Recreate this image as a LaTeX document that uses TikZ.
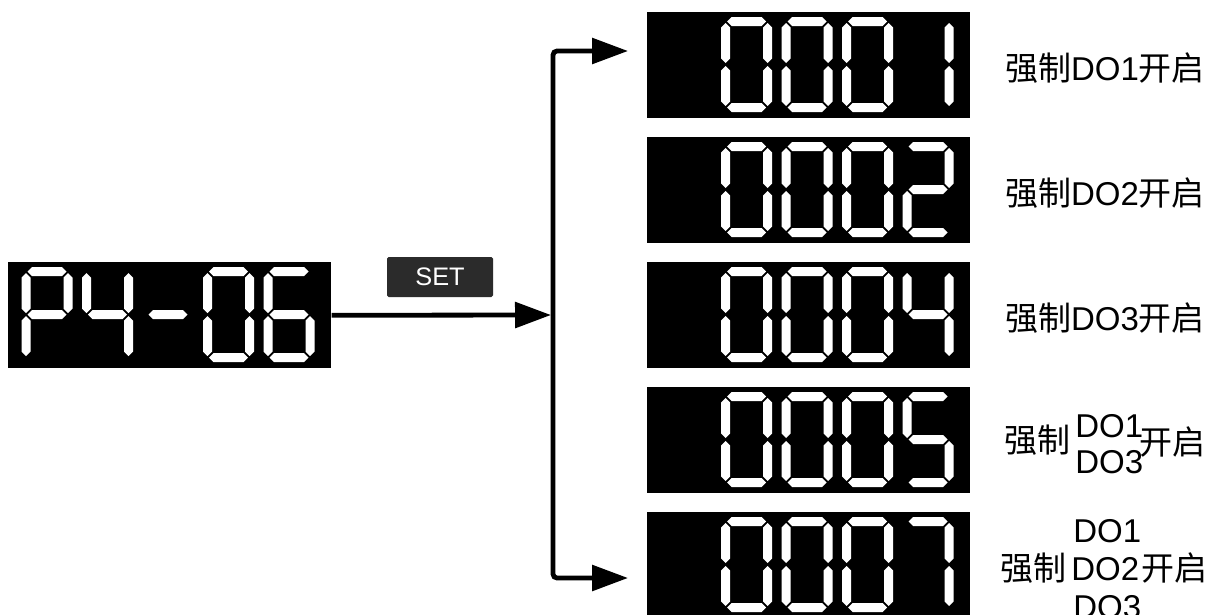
\documentclass[tikz,border=0pt]{standalone}
\usepackage{fontspec}
\setmainfont{Liberation Sans}
\newfontfamily\cjk{Noto Sans CJK SC}
\usetikzlibrary{arrows.meta}
\definecolor{setgray}{HTML}{2B2B2B}
% seven-segment pieces (units: px of the reference)
\newcommand\hsg[3]{\fill[segcol] (#1,#3) -- ({#1+4.5},{#3-4.5}) -- ({#2-4.5},{#3-4.5}) -- (#2,#3) -- ({#2-4.5},{#3+4.5}) -- ({#1+4.5},{#3+4.5}) -- cycle;}
\newcommand\vsg[3]{\fill[segcol] (#1,#2) -- ({#1+4.5},{#2+4.5}) -- ({#1+4.5},{#3-4.5}) -- (#1,#3) -- ({#1-4.5},{#3-4.5}) -- ({#1-4.5},{#2+4.5}) -- cycle;}
\newcommand\sgA{\hsg{6}{45}{4.5}}
\newcommand\sgG{\hsg{6}{45}{47.5}}
\newcommand\sgD{\hsg{6}{45}{90.5}}
\newcommand\sgF{\vsg{4.5}{6}{46}}
\newcommand\sgE{\vsg{4.5}{49}{89}}
\newcommand\sgB{\vsg{46.5}{6}{46}}
\newcommand\sgC{\vsg{46.5}{49}{89}}
\newcommand\dgZero{\sgA\sgB\sgC\sgD\sgE\sgF}
\newcommand\dgOne{\sgB\sgC}
\newcommand\dgTwo{\sgA\sgB\sgG\sgE\sgD}
\newcommand\dgFour{\sgF\sgG\sgB\sgC}
\newcommand\dgFive{\sgA\sgF\sgG\sgC\sgD}
\newcommand\dgSix{\sgA\sgF\sgG\sgE\sgC\sgD}
\newcommand\dgSeven{\sgA\sgB\sgC}
\newcommand\dgP{\sgA\sgB\sgF\sgG\sgE}
\newcommand\sgdigit[3]{\begin{scope}[shift={(#1.north west)}]\begin{scope}[shift={({13.5+60.5*#2},5)}]#3\end{scope}\end{scope}}
\begin{document}
\begin{tikzpicture}[x=0.75pt,y=-0.75pt,
  segcol/.style={fill=white},
  disp/.style={fill=black, draw=none, inner sep=0pt, minimum width=242.25pt, minimum height=79.5pt, anchor=north west},
  conn/.style={line width=3.6pt, draw=black},
  tip/.style={-{Triangle[length=27pt,width=19pt]}},
  lbl/.style={inner sep=0pt, font=\fontsize{24.75pt}{30pt}\selectfont},
  setbox/.style={fill=setgray, text=white, inner sep=0pt, minimum width=79.5pt, minimum height=30pt, rounded corners=1.2pt, font=\fontsize{19pt}{22pt}\selectfont}]
\useasboundingbox (0,0) rectangle (1212,614);
\clip (0,0) rectangle (1212,614);
% displays
\node[disp] (d0) at (8,262) {};
\node[disp] (d1) at (647,12) {};
\node[disp] (d2) at (647,137) {};
\node[disp] (d3) at (647,262) {};
\node[disp] (d4) at (647,387) {};
\node[disp] (d5) at (647,512) {};
% digits
\sgdigit{d0}{0}{\dgP}\sgdigit{d0}{1}{\dgFour}\sgdigit{d0}{2}{\sgG}\sgdigit{d0}{3}{\dgZero}\sgdigit{d0}{4}{\dgSix}
\sgdigit{d1}{1}{\dgZero}\sgdigit{d1}{2}{\dgZero}\sgdigit{d1}{3}{\dgZero}\sgdigit{d1}{4}{\dgOne}
\sgdigit{d2}{1}{\dgZero}\sgdigit{d2}{2}{\dgZero}\sgdigit{d2}{3}{\dgZero}\sgdigit{d2}{4}{\dgTwo}
\sgdigit{d3}{1}{\dgZero}\sgdigit{d3}{2}{\dgZero}\sgdigit{d3}{3}{\dgZero}\sgdigit{d3}{4}{\dgFour}
\sgdigit{d4}{1}{\dgZero}\sgdigit{d4}{2}{\dgZero}\sgdigit{d4}{3}{\dgZero}\sgdigit{d4}{4}{\dgFive}
\sgdigit{d5}{1}{\dgZero}\sgdigit{d5}{2}{\dgZero}\sgdigit{d5}{3}{\dgZero}\sgdigit{d5}{4}{\dgSeven}
% SET key
\node[setbox] (set) at (440,277) {SET};
% connectors
\coordinate (split) at (553,315);
\coordinate (splitin) at (551,315);
\coordinate (t1) at (628,51);
\coordinate (t5) at (628,578);
\draw[conn, tip] (d0.east) -- (splitin);
\draw[conn, {Triangle[length=27pt,width=19pt]}-{Triangle[length=27pt,width=19pt]}, rounded corners=3pt] (t1) -| (split) |- (t5);
% labels
\node[lbl, anchor=base] (l1) at (1105,80) {{\cjk 强制}DO1{\cjk 开启}};
\node[lbl, anchor=base] (l2) at (1105,205) {{\cjk 强制}DO2{\cjk 开启}};
\node[lbl, anchor=base] (l3) at (1105,330) {{\cjk 强制}DO3{\cjk 开启}};
\node[lbl, anchor=base] (l4a) at (1037,452) {\cjk 强制};
\node[lbl, anchor=base west] (l4b) at (1075,437) {DO1};
\node[lbl, anchor=base west] (l4c) at (1075,473) {DO3};
\node[lbl, anchor=base] (l4d) at (1172,454) {\cjk 开启};
\node[lbl, anchor=base west] (l5b) at (1073,542) {DO1};
\node[lbl, anchor=base] (l5a) at (1033,580) {\cjk 强制};
\node[lbl, anchor=base west] (l5c) at (1071,580) {DO2};
\node[lbl, anchor=base] (l5d) at (1174,580) {\cjk 开启};
\node[lbl, anchor=base west] (l5e) at (1073,618) {DO3};
\end{tikzpicture}
\end{document}
